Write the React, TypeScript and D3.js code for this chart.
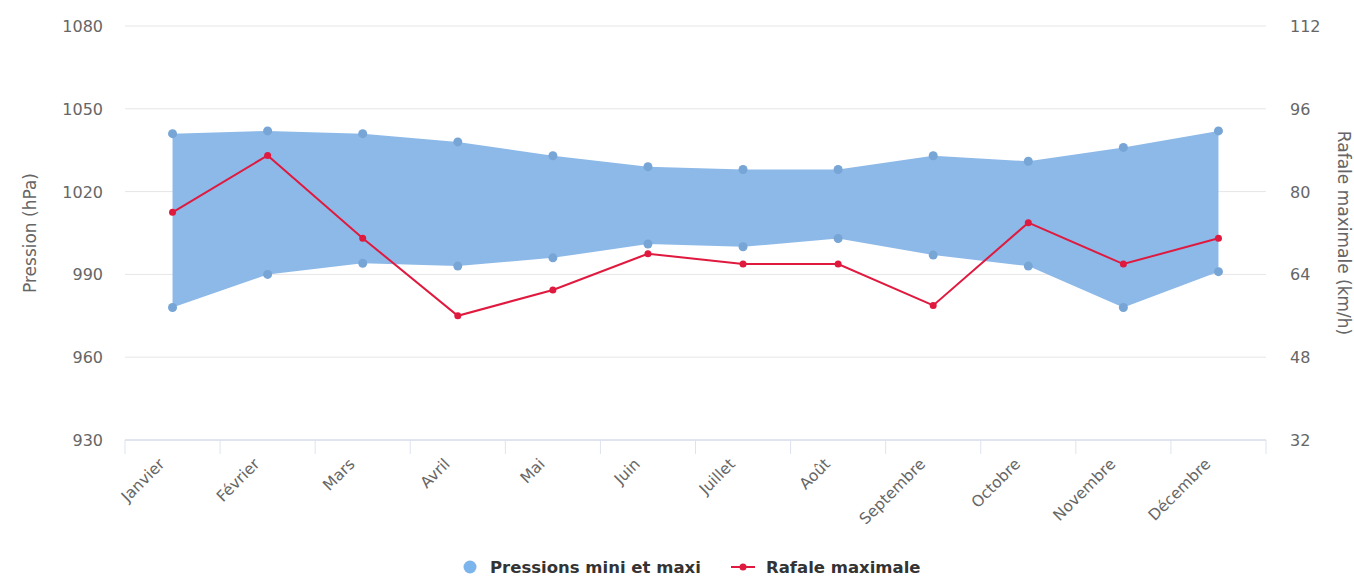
import React from "react";
import * as d3 from "d3";

const months = ["Janvier", "Février", "Mars", "Avril", "Mai", "Juin", "Juillet", "Août", "Septembre", "Octobre", "Novembre", "Décembre"];
const pressureMax = [1041, 1042, 1041, 1038, 1033, 1029, 1028, 1028, 1033, 1031, 1036, 1042];
const pressureMin = [978, 990, 994, 993, 996, 1001, 1000, 1003, 997, 993, 978, 991];
const gust = [76, 87, 71, 56, 61, 68, 66, 66, 58, 74, 66, 71];
const leftTicks = [930, 960, 990, 1020, 1050, 1080];
const rightTicks = [32, 48, 64, 80, 96, 112];

const W = 1354;
const H = 580;
const L = 125;
const R = 1266;
const T = 26;
const B = 440;
const FONT = "'DejaVu Sans', Verdana, sans-serif";

export default function App() {
  const x = d3.scaleBand<string>().domain(months).range([L, R]);
  const cx = (m: string) => (x(m) as number) + x.bandwidth() / 2;
  const yL = d3.scaleLinear().domain([930, 1080]).range([B, T]);
  const yR = d3.scaleLinear().domain([32, 112]).range([B, T]);

  const area = d3
    .area<number>()
    .x((_, i) => cx(months[i]))
    .y0((_, i) => yL(pressureMin[i]))
    .y1((_, i) => yL(pressureMax[i]));
  const line = d3
    .line<number>()
    .x((_, i) => cx(months[i]))
    .y((d) => yR(d));

  const boundaries = months.map((m) => x(m) as number).concat([R]);

  return (
    <svg width={W} height={H} style={{ position: "absolute", left: 0, top: 0, background: "#fff" }} fontFamily={FONT}>
      {leftTicks.map((t) => (
        <g key={t}>
          <line x1={L} x2={R} y1={yL(t)} y2={yL(t)} stroke="#e6e6e6" strokeWidth={1} />
          <text x={103} y={yL(t) + 6} textAnchor="end" fontSize={16} fill="#666">
            {t}
          </text>
        </g>
      ))}
      {rightTicks.map((t) => (
        <text key={t} x={1290} y={yR(t) + 6} textAnchor="start" fontSize={16} fill="#666">
          {t}
        </text>
      ))}
      <line x1={L} x2={R} y1={B} y2={B} stroke="#ccd6eb" strokeWidth={1} />
      {boundaries.map((b, i) => (
        <line key={i} x1={b} x2={b} y1={B} y2={B + 14} stroke="#dde3ef" strokeWidth={1} />
      ))}
      <text transform={`translate(36,${(T + B) / 2}) rotate(-90)`} textAnchor="middle" fontSize={17} fill="#666">
        Pression (hPa)
      </text>
      <text transform={`translate(1338,${(T + B) / 2}) rotate(90)`} textAnchor="middle" fontSize={17} fill="#666">
        Rafale maximale (km/h)
      </text>

      <path d={area(pressureMax) || ""} fill="#8cb9e8" stroke="none" />
      {months.map((m, i) => (
        <g key={m}>
          <circle cx={cx(m)} cy={yL(pressureMax[i])} r={4.5} fill="#76a5d6" />
          <circle cx={cx(m)} cy={yL(pressureMin[i])} r={4.5} fill="#76a5d6" />
        </g>
      ))}
      <path d={line(gust) || ""} fill="none" stroke="#e0193f" strokeWidth={2} />
      {gust.map((g, i) => (
        <circle key={i} cx={cx(months[i])} cy={yR(g)} r={3.5} fill="#e0193f" />
      ))}

      {months.map((m) => (
        <text
          key={m}
          transform={`translate(${cx(m) - 7},${B + 25}) rotate(-45)`}
          textAnchor="end"
          fontSize={15.5}
          fill="#666"
        >
          {m}
        </text>
      ))}

      <circle cx={470} cy={567} r={6.5} fill="#7cb5ec" />
      <text x={490} y={573} fontSize={16.5} fontWeight="bold" fill="#333">
        Pressions mini et maxi
      </text>
      <line x1={731} x2={755} y1={567} y2={567} stroke="#e0193f" strokeWidth={2} />
      <circle cx={743} cy={567} r={3.5} fill="#e0193f" />
      <text x={766} y={573} fontSize={16.5} fontWeight="bold" fill="#333">
        Rafale maximale
      </text>
    </svg>
  );
}
